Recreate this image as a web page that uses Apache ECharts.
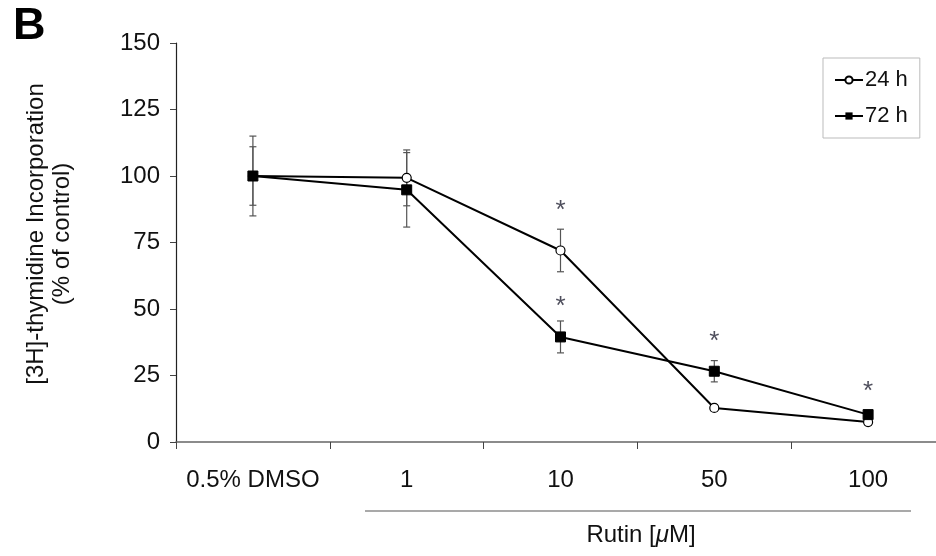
<!DOCTYPE html>
<html>
<head>
<meta charset="utf-8">
<script src="https://cdn.jsdelivr.net/npm/echarts@6/dist/echarts.min.js"></script>
<style>
  html, body { margin: 0; padding: 0; background: #fff; overflow: hidden; }
  /* canvas is a bit wider than the page: the x axis runs past the right edge */
  #chart { width: 945px; height: 556px; }
</style>
</head>
<body>
<div id="chart"></div>
<script>
const categories = ['0.5% DMSO', '1', '10', '50', '100']
const h24 = [100, 99.3, 72, 12.8, 7.5]
const h24Err = [15, 10.5, 8, 1.2, 0.8]
const h72 = [100, 94.8, 39.5, 26.6, 10.3]
const h72Err = [11, 14, 6, 4, 1]
// asterisks (significance) drawn above the marked points
const stars = [[2, 87], [2, 51], [3, 37.5], [4, 19]]

const FONT = 'Liberation Sans, Arial, sans-serif'

function errData(vals, errs) {
    return vals.map((v, i) => [i, v - errs[i], v + errs[i]])
}

function renderErr(params, api) {
    const x = api.value(0)
    const lo = api.coord([x, api.value(1)])
    const hi = api.coord([x, api.value(2)])
    const w = 3.5
    const style = {stroke: '#555', lineWidth: 1.2}
    return {
        type: 'group',
        children: [
            {type: 'line', shape: {x1: hi[0], y1: hi[1], x2: lo[0], y2: lo[1]}, style},
            {type: 'line', shape: {x1: hi[0] - w, y1: hi[1], x2: hi[0] + w, y2: hi[1]}, style},
            {type: 'line', shape: {x1: lo[0] - w, y1: lo[1], x2: lo[0] + w, y2: lo[1]}, style}
        ]
    }
}

const myChart = echarts.init(document.getElementById('chart'))

myChart.setOption({
    animation: false,
    textStyle: {fontFamily: FONT},
    grid: {left: 176, right: 0, top: 43, bottom: 114},
    legend: {
        orient: 'vertical',
        left: 823,
        top: 58,
        padding: [11, 12, 11, 11],
        itemGap: 14,
        itemWidth: 28,
        itemHeight: 9,
        borderColor: '#bbb',
        borderWidth: 1,
        textStyle: {fontSize: 22, color: '#111', fontFamily: FONT, padding: [0, 0, 0, -3]},
        data: ['24 h', '72 h']
    },
    xAxis: {
        type: 'category',
        data: categories,
        boundaryGap: true,
        axisLine: {lineStyle: {color: '#666', width: 1.5}},
        axisTick: {show: true, interval: 0, length: 7, lineStyle: {color: '#444'}},
        axisLabel: {interval: 0, hideOverlap: false, fontSize: 24, color: '#111', margin: 26, fontFamily: FONT}
    },
    yAxis: {
        type: 'value',
        min: 0,
        max: 150,
        interval: 25,
        splitLine: {show: false},
        axisLine: {show: true, lineStyle: {color: '#222', width: 1.2}},
        axisTick: {show: true, length: 6, lineStyle: {color: '#444'}},
        axisLabel: {fontSize: 24, color: '#111', margin: 16, fontFamily: FONT}
    },
    graphic: [
        {type: 'text', left: 13, top: 4, style: {text: 'B', font: 'bold 45px ' + FONT, fill: '#000'}},
        {
            type: 'text', x: 49, y: 234, rotation: Math.PI / 2,
            style: {
                text: '[3H]-thymidine Incorporation\n(% of control)',
                align: 'center', verticalAlign: 'middle',
                font: '24px ' + FONT, lineHeight: 26, fill: '#111'
            }
        },
        {type: 'line', shape: {x1: 365, y1: 511, x2: 911, y2: 511}, style: {stroke: '#555', lineWidth: 1.2}},
        {
            type: 'text', x: 641, y: 535,
            style: {
                text: 'Rutin [{i|μ}M]',
                align: 'center', verticalAlign: 'middle',
                font: '24px ' + FONT, fill: '#111',
                rich: {i: {fontStyle: 'italic', fontSize: 24, fontFamily: FONT}}
            }
        }
    ],
    series: [
        {
            type: 'custom',
            renderItem: renderErr,
            data: errData(h24, h24Err),
            z: 1,
            silent: true
        },
        {
            type: 'custom',
            renderItem: renderErr,
            data: errData(h72, h72Err),
            z: 1,
            silent: true
        },
        {
            name: '24 h',
            type: 'line',
            data: h24,
            symbol: 'circle',
            symbolSize: 9,
            lineStyle: {color: '#000', width: 2},
            itemStyle: {color: '#fff', borderColor: '#000', borderWidth: 1.2},
            z: 3
        },
        {
            name: '72 h',
            type: 'line',
            data: h72,
            symbol: 'rect',
            symbolSize: 10,
            lineStyle: {color: '#000', width: 2},
            itemStyle: {color: '#000', borderColor: '#000'},
            z: 4
        },
        {
            type: 'scatter',
            data: stars,
            symbolSize: 1,
            itemStyle: {color: 'transparent'},
            silent: true,
            label: {
                show: true,
                position: 'inside',
                formatter: '*',
                fontSize: 26,
                color: '#223',
                fontFamily: FONT
            }
        }
    ]
})
</script>
</body>
</html>
